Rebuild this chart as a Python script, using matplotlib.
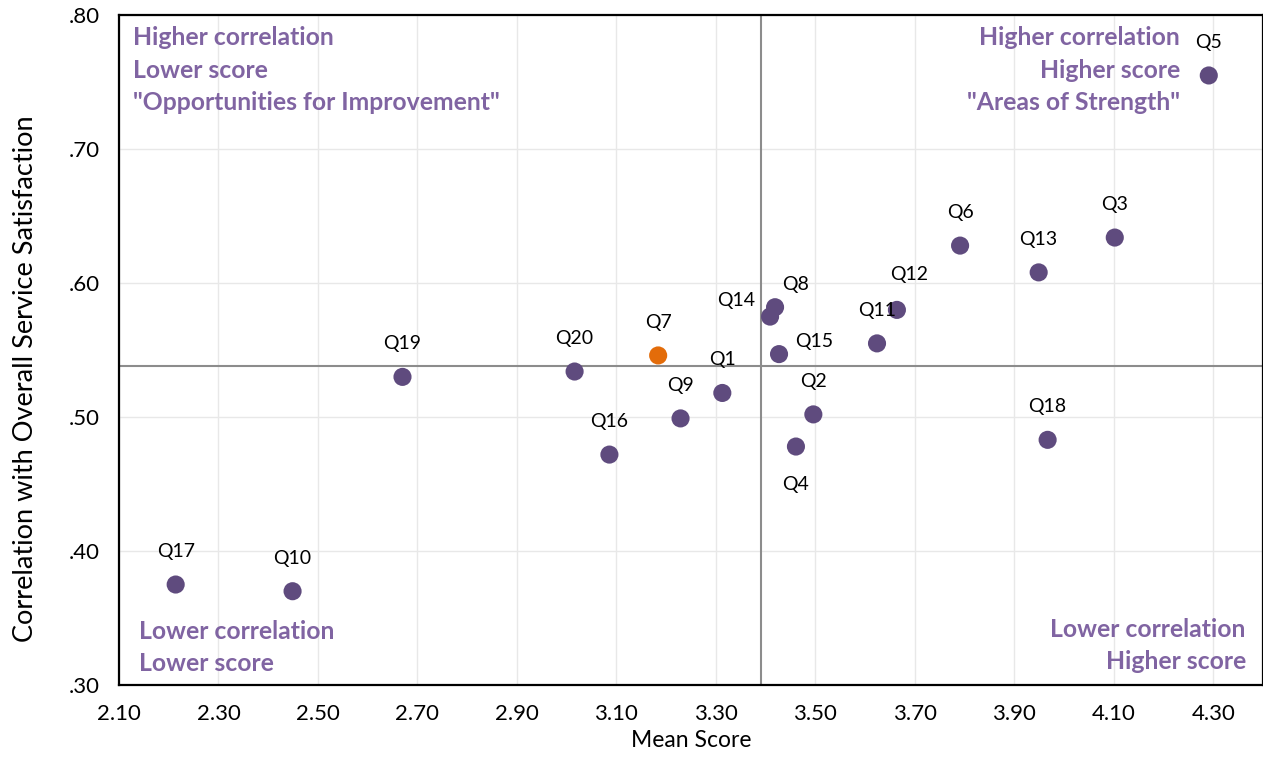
import numpy as np
import matplotlib.pyplot as plt

plt.rcParams['font.family'] = ['Lato', 'DejaVu Sans']

labels = ['Q1', 'Q2', 'Q3', 'Q4', 'Q5', 'Q6', 'Q7', 'Q8', 'Q9', 'Q10',
          'Q11', 'Q12', 'Q13', 'Q14', 'Q15', 'Q16', 'Q17', 'Q18', 'Q19', 'Q20']
mean_score = [3.313, 3.496, 4.102, 3.461, 4.291, 3.791, 3.184, 3.419, 3.229, 2.449,
              3.624, 3.664, 3.949, 3.409, 3.427, 3.086, 2.214, 3.967, 2.670, 3.016]
correlation = [.518, .502, .634, .478, .755, .628, .546, .582, .499, .370,
               .555, .580, .608, .575, .547, .472, .375, .483, .530, .534]
highlight = 'Q7'
mean_avg = 3.39
corr_avg = .538

# label offsets in pixels (dx, dy)
offsets = {'Q14': (-34, 16), 'Q15': (35, 13), 'Q4': (0, -38), 'Q12': (12, 35),
           'Q8': (21, 23)}

purple = '#5F4B7E'
orange = '#E36C0A'
txt_purple = '#8064A2'

fig = plt.figure(figsize=(12.63, 7.59), dpi=100)
ax = fig.add_axes([0.0942, 0.0975, 0.9058, 0.8825])

colors = [orange if l == highlight else purple for l in labels]
ax.scatter(mean_score, correlation, s=170, c=colors, zorder=4, linewidths=0)

for l, x, y in zip(labels, mean_score, correlation):
    dx, dy = offsets.get(l, (0, 33))
    ax.annotate(l, (x, y), xytext=(dx * 0.72, dy * 0.72), textcoords='offset points',
                ha='center', va='center', fontsize=14, color='black', zorder=5)

ax.axvline(mean_avg, color='#8C8C8C', lw=1.5, zorder=2)
ax.axhline(corr_avg, color='#8C8C8C', lw=1.5, zorder=2)

ax.set_xlim(2.10, 4.40)
ax.set_ylim(.30, .80)
xt = np.arange(2.10, 4.31, 0.2)
ax.set_xticks(xt)
ax.set_xticklabels([f'{v:.2f}' for v in xt])
yt = np.arange(.30, .81, .1)
ax.set_yticks(yt)
ax.set_yticklabels([f'{v:.2f}'[1:] for v in yt])
ax.tick_params(length=0, labelsize=16, pad=14)
ax.grid(color='#E8E8E8', lw=1, zorder=0)
ax.set_axisbelow(True)
for s in ax.spines.values():
    s.set_linewidth(1.6)
    s.set_color('black')

ax.set_xlabel('Mean Score', fontsize=16.5, labelpad=4)
ax.set_ylabel('Correlation with Overall Service Satisfaction', fontsize=19.5, va='center')
ax.yaxis.set_label_coords(-0.082, 0.457)

kw = dict(transform=ax.transAxes, fontsize=17.8, fontweight='bold', color=txt_purple, va='center')
ax.text(0.0122, 0.967, 'Higher correlation', ha='left', **kw)
ax.text(0.0122, 0.918, 'Lower score', ha='left', **kw)
ax.text(0.0122, 0.870, '"Opportunities for Improvement"', ha='left', **kw)
ax.text(0.9275, 0.967, 'Higher correlation', ha='right', **kw)
ax.text(0.9275, 0.918, 'Higher score', ha='right', **kw)
ax.text(0.9275, 0.870, '"Areas of Strength"', ha='right', **kw)
ax.text(0.0175, 0.0806, 'Lower correlation', ha='left', **kw)
ax.text(0.0175, 0.0328, 'Lower score', ha='left', **kw)
ax.text(0.985, 0.0836, 'Lower correlation', ha='right', **kw)
ax.text(0.985, 0.0358, 'Higher score', ha='right', **kw)

fig.savefig('out.png', dpi=100)
